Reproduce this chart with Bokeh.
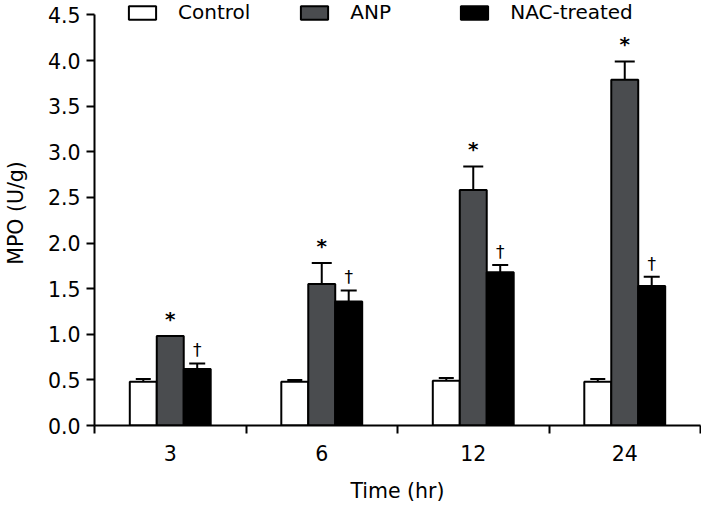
import numpy as np
from bokeh.plotting import figure
from bokeh.models import (ColumnDataSource, Range1d, FixedTicker, Whisker, TeeHead,
                          Legend, LegendItem, NumeralTickFormatter)
from bokeh.core.properties import value
from bokeh.embed import file_html
from bokeh.resources import INLINE

# ---- data ----
times = ["3", "6", "12", "24"]
control = [0.48, 0.48, 0.49, 0.48]
control_err = [0.03, 0.02, 0.03, 0.03]
anp = [0.98, 1.55, 2.58, 3.79]
anp_err = [0.0, 0.23, 0.26, 0.20]
nac = [0.62, 1.36, 1.68, 1.53]
nac_err = [0.06, 0.12, 0.08, 0.10]
anp_sig = ["*", "*", "*", "*"]
nac_sig = ["\u2020", "\u2020", "\u2020", "\u2020"]
y_ticks = [0.0, 0.5, 1.0, 1.5, 2.0, 2.5, 3.0, 3.5, 4.0, 4.5]
y_axis_max = 4.5

FONT = "DejaVu Sans"
FS = "20.5px"

centers = np.arange(len(times)) + 0.5
bw = 0.178
offsets = [-bw, 0.0, bw]

# the frame reaches the top edge so the legend sits inside it; the axis stops at 4.5
p = figure(width=701, height=506, output_backend="svg", toolbar_location=None,
           x_range=Range1d(0, len(times)), y_range=Range1d(0, 4.658),
           min_border_left=94, min_border_right=1, min_border_top=0, min_border_bottom=81)
p.outline_line_color = None
p.xgrid.grid_line_color = None
p.ygrid.grid_line_color = None
p.background_fill_color = "white"

groups = [
    ("Control", control, control_err, "white", 15),
    ("ANP", anp, anp_err, "#4a4c4f", 20),
    ("NAC-treated", nac, nac_err, "black", 16),
]

items = []
for (name, vals, errs, col, cap), off in zip(groups, offsets):
    src = ColumnDataSource(dict(
        x=centers + off,
        top=vals,
        up=np.array(vals) + np.array(errs),
    ))
    r = p.vbar(x="x", top="top", bottom=0, width=bw, source=src,
               fill_color=col, line_color="black", line_width=2)
    w = Whisker(base="x", lower="top", upper="up", source=src,
                upper_head=TeeHead(size=cap, line_width=2, line_color="black"),
                lower_head=None, line_width=2, line_color="black", level="glyph")
    p.add_layout(w)
    items.append(LegendItem(label=name, renderers=[r]))

# significance markers
anp_src = ColumnDataSource(dict(x=centers + offsets[1],
                                y=np.array(anp) + np.array(anp_err), t=anp_sig))
p.text(x="x", y="y", text="t", source=anp_src, y_offset=-17,
       text_align="center", text_baseline="middle",
       text_font=value(FONT), text_font_size="20px", text_font_style="bold", text_color="black")
nac_src = ColumnDataSource(dict(x=centers + offsets[2],
                                y=np.array(nac) + np.array(nac_err), t=nac_sig))
p.text(x="x", y="y", text="t", source=nac_src, y_offset=-13,
       text_align="center", text_baseline="middle",
       text_font=value(FONT), text_font_size="17px", text_color="black")

# x axis: labels at centers, ticks at boundaries
xa = p.xaxis[0]
xa.ticker = FixedTicker(ticks=list(centers), minor_ticks=list(range(len(times) + 1)))
xa.major_label_overrides = {float(c): t for c, t in zip(centers, times)}
xa.major_tick_line_color = None
xa.major_tick_out = 8
xa.major_tick_in = 0
xa.minor_tick_in = 0
xa.minor_tick_out = 8
xa.minor_tick_line_color = "black"
xa.minor_tick_line_width = 2
xa.axis_line_width = 2
xa.axis_line_color = "black"
xa.major_label_standoff = 11
xa.major_label_text_font = FONT
xa.major_label_text_font_size = FS
xa.major_label_text_color = "black"
xa.axis_label = "Time (hr)"
xa.axis_label_text_font = FONT
xa.axis_label_text_font_size = FS
xa.axis_label_text_font_style = "normal"
xa.axis_label_text_color = "black"
xa.axis_label_standoff = 15

ya = p.yaxis[0]
ya.ticker = FixedTicker(ticks=y_ticks)
ya.bounds = (0, y_axis_max)
ya.formatter = NumeralTickFormatter(format="0.0")
ya.major_tick_in = 0
ya.major_tick_out = 8
ya.major_tick_line_width = 2
ya.minor_tick_line_color = None
ya.axis_line_width = 2
ya.axis_line_color = "black"
ya.major_label_standoff = 6
ya.major_label_text_font = FONT
ya.major_label_text_font_size = FS
ya.major_label_text_color = "black"
ya.axis_label = "MPO (U/g)"
ya.axis_label_text_font = FONT
ya.axis_label_text_font_size = FS
ya.axis_label_text_font_style = "normal"
ya.axis_label_text_color = "black"
ya.axis_label_standoff = 17

legend = Legend(items=items, orientation="horizontal", location=(31, 401),
                glyph_width=34, glyph_height=17, label_standoff=19, spacing=47,
                label_width=60,
                padding=0, margin=0, border_line_color=None, background_fill_alpha=0,
                label_text_font=FONT, label_text_font_size="20px", label_text_color="black")
p.add_layout(legend, "center")

open("out.html", "w").write(file_html(p, INLINE))
